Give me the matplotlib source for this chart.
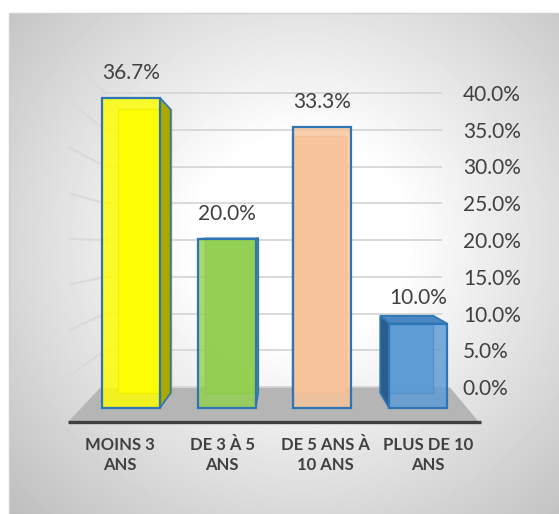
import numpy as np
import matplotlib
matplotlib.use("Agg")
import matplotlib.pyplot as plt
from matplotlib.patches import Polygon
from matplotlib.colors import to_rgba

plt.rcParams['font.family'] = ['Lato', 'DejaVu Sans']

# ------------------------------
# DATA
# ------------------------------
categories = ["MOINS 3\nANS", "DE 3 À 5\nANS", "DE 5 ANS À\n10 ANS", "PLUS DE 10\nANS"]
values = [36.7, 20.0, 33.3, 10.0]
value_labels = ["36.7%", "20.0%", "33.3%", "10.0%"]
axis_ticks = [0, 5, 10, 15, 20, 25, 30, 35, 40]

# ------------------------------
# STYLE / LAYOUT
# ------------------------------
front_colors = ["#ffff00", "#92d050", "#f8c49a", "#5b9bd5"]
side_colors = ["#a9a900", "#6ea83a", "#e0aa80", "#2b5d8c"]
top_colors = ["#ffff66", "#b0e080", "#fbd8b8", "#4a86c0"]
edge_color = "#2e75b6"
text_color = "#404040"
grid_color = "#d9d9d9"

W, H = 559, 514                 # figure size in px
X0_PX, DX_PX = 131, 95.7        # first bar centre, bar spacing (px)
BASE_PX, PPU = 408, 8.45        # bar front base (px), px per percent
VX_PX, VY_PX = 285, 232         # vanishing point (px)
S_BACK = 0.915                  # depth scale of the bar back faces
S_LABEL = 1.075                 # depth scale of the floor front edge
bar_width = 0.606


def px2d(x, y):
    """pixel position -> main axes data units"""
    return (x - X0_PX) / DX_PX, (BASE_PX - y) / PPU


VX, VY = px2d(VX_PX, VY_PX)


def proj(x, y, s):
    return VX + s * (x - VX), VY + s * (y - VY)


fig = plt.figure(figsize=(W / 100, H / 100), dpi=100)

# background with radial gradient
bg = fig.add_axes([0, 0, 1, 1])
yy, xx = np.mgrid[13:H, 9:W]
d = np.sqrt(((xx - 300) / 300) ** 2 + ((yy - 240) / 290) ** 2)
shade = (255 - 65 * np.clip(d - 0.35, 0, None)) / 255
bg.imshow(shade, cmap='gray', vmin=0, vmax=1, extent=(9, W, H, 13),
          aspect='auto', interpolation='bilinear')
bg.plot([9, 9, W], [H, 13, 13], color="#d0d0d0", lw=1)
bg.set_xlim(0, W)
bg.set_ylim(H, 0)
bg.axis('off')

# back wall with gridlines and value axis
wall_px_per = 7.35
pad = 0.5
wall_bottom = 387 + pad * wall_px_per
wall_top = 93 - pad * wall_px_per
wall = fig.add_axes([105 / W, (H - wall_bottom) / H, 337 / W, (wall_bottom - wall_top) / H])
wall.patch.set_alpha(0)
wall.set_xlim(0, 1)
wall.set_ylim(-pad, 40 + pad)
wall.set_yticks(axis_ticks)
wall.set_yticklabels([f"{t:.1f}%" for t in axis_ticks])
wall.yaxis.tick_right()
wall.tick_params(axis='y', length=0, pad=15, labelsize=15, labelcolor=text_color)
wall.set_xticks([])
for sp in wall.spines.values():
    sp.set_visible(False)
wall.grid(axis='y', color=grid_color, lw=1.4)

# left side wall gridlines
side_x = (70 - 105) / 337
for g in axis_ticks[1:]:
    wall.plot([0, side_x], [g, (9.1 * g - 34) / wall_px_per],
              color=grid_color, lw=1.4, clip_on=False)

# main axes: floor, bars, labels
ax = fig.add_axes([0, 0, 1, 1])
ax.patch.set_alpha(0)
ax.set_xlim(px2d(0, 0)[0], px2d(W, 0)[0])
ax.set_ylim(px2d(0, H)[1], px2d(0, 0)[1])
ax.axis('off')

floor = [px2d(100, 388), px2d(450, 387.5), px2d(478, 421), px2d(69, 421)]
ax.add_patch(Polygon(floor, closed=True, fc="#b5b5b5", ec='none', zorder=1))
fl, fr = px2d(68, 421.5), px2d(481, 421.5)
ax.plot([fl[0], fr[0]], [fl[1], fr[1]], color="#404040", lw=2.4,
        solid_capstyle='butt', zorder=1.5)

xs = np.arange(len(values))
for i, v in enumerate(values):
    xl, xr = i - bar_width / 2, i + bar_width / 2
    bl, br = proj(xl, 0, S_BACK), proj(xr, 0, S_BACK)
    tl, tr = proj(xl, v, S_BACK), proj(xr, v, S_BACK)
    ax.add_patch(Polygon([bl, br, tr, tl], closed=True, fc=front_colors[i],
                         ec=side_colors[i], lw=1, alpha=0.9, zorder=2))
    if br[0] > xr:
        ax.add_patch(Polygon([(xr, 0), (xr, v), tr, br], closed=True,
                             fc=side_colors[i], ec=edge_color, lw=1.2, zorder=3))
    if bl[0] < xl:
        ax.add_patch(Polygon([(xl, 0), (xl, v), tl, bl], closed=True,
                             fc=side_colors[i], ec=edge_color, lw=1.2, zorder=3))
    if tl[1] > v:
        ax.add_patch(Polygon([(xl, v), (xr, v), tr, tl], closed=True,
                             fc=top_colors[i], ec=edge_color, lw=1.2, zorder=3))

ax.bar(xs, values, bar_width, color=[to_rgba(c, 0.82) for c in front_colors],
       edgecolor=edge_color, lw=1.6, zorder=4)

for i, (v, lbl) in enumerate(zip(values, value_labels)):
    ax.annotate(lbl, (i, v), xytext=(0, 18), textcoords='offset points',
                ha='center', va='center', fontsize=15, color=text_color, zorder=5)

label_y = px2d(0, 455)[1]
for i, cat in enumerate(categories):
    ax.text(VX + S_LABEL * (i - VX), label_y, cat, ha='center', va='center',
            fontsize=12, fontweight='bold', color=text_color, linespacing=1.3,
            multialignment='center', zorder=5)

fig.savefig("out.png", dpi=100)
